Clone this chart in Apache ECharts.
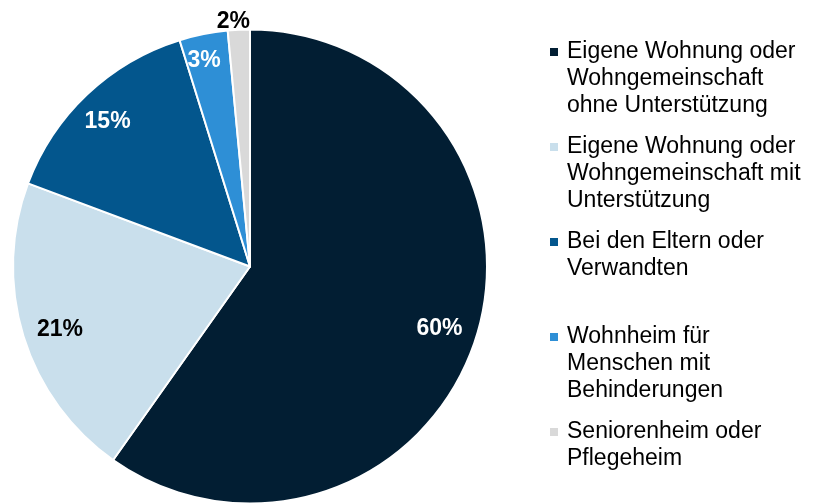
<!DOCTYPE html>
<html>
<head>
<meta charset="utf-8">
<script src="https://cdn.jsdelivr.net/npm/echarts@6/dist/echarts.min.js"></script>
<style>
  html, body { margin: 0; padding: 0; background: #fff; }
  #chart { width: 817px; height: 504px; }
</style>
</head>
<body>
<div id="chart"></div>
<script>
// Wohnsituation, share in percent
const categories = [
  'Eigene Wohnung oder\nWohngemeinschaft\nohne Unterstützung',
  'Eigene Wohnung oder\nWohngemeinschaft mit\nUnterstützung',
  'Bei den Eltern oder\nVerwandten',
  'Wohnheim für\nMenschen mit\nBehinderungen',
  'Seniorenheim oder\nPflegeheim'
]
const shares = [59.8, 20.9, 14.5, 3.3, 1.5]
const shareLabels = ['60%', '21%', '15%', '3%', '2%']
const colors = ['#021e33', '#c9dfec', '#03568d', '#2e8fd6', '#d9d9d9']
const labelColors = ['#fff', '#000', '#fff', '#fff', '#000']
const labelOffsets = [[-4, 1], [4, 3], [-3, 3], [-6, -7], [-7, -42]]

// first-line centre of every legend entry
const legendCenters = [52, 147, 242, 337, 432]
const lineH = 27

const chart = echarts.init(document.getElementById('chart'))

// marker square next to the first line; tiny corner dots stretch the
// icon box to the full text height so the square stays at the top
function markerIcon(n) {
  const h = n * lineH
  const y = lineH / 2 - 4
  return 'path://M0,' + y + 'h8v8h-8z' +
    'M0,0h0.01v0.01h-0.01z' +
    'M12,' + h + 'h0.01v0.01h-0.01z'
}

const legends = categories.map((name, i) => {
  const n = name.split('\n').length
  return {
    data: [name],
    orient: 'vertical',
    left: 550,
    top: legendCenters[i] - lineH / 2,
    padding: 0,
    icon: markerIcon(n),
    itemWidth: 12,
    itemHeight: n * lineH,
    itemStyle: { borderWidth: 0 },
    selectedMode: false,
    textStyle: {
      fontFamily: 'Liberation Sans',
      fontSize: 23,
      lineHeight: lineH,
      color: '#000'
    }
  }
})

const pieData = categories.map((name, i) => ({
  name: name,
  value: shares[i],
  itemStyle: { color: colors[i] }
}))

const labelData = categories.map((name, i) => ({
  name: name,
  value: shares[i],
  label: {
    formatter: shareLabels[i],
    color: labelColors[i],
    offset: labelOffsets[i]
  }
}))

chart.setOption({
  animation: false,
  legend: legends,
  series: [
    {
      type: 'pie',
      center: [250, 266.5],
      radius: [0, 237],
      startAngle: 90,
      clockwise: true,
      silent: true,
      data: pieData,
      label: { show: false },
      labelLine: { show: false },
      itemStyle: { borderColor: '#fff', borderWidth: 2 }
    },
    {
      // transparent ring used only to place the percentage labels
      type: 'pie',
      center: [250, 266.5],
      radius: [163, 237],
      startAngle: 90,
      clockwise: true,
      silent: true,
      data: labelData,
      itemStyle: { color: 'rgba(0,0,0,0)' },
      label: {
        show: true,
        position: 'inside',
        fontFamily: 'Liberation Sans',
        fontWeight: 'bold',
        fontSize: 23
      },
      labelLine: { show: false }
    }
  ]
})
</script>
</body>
</html>
